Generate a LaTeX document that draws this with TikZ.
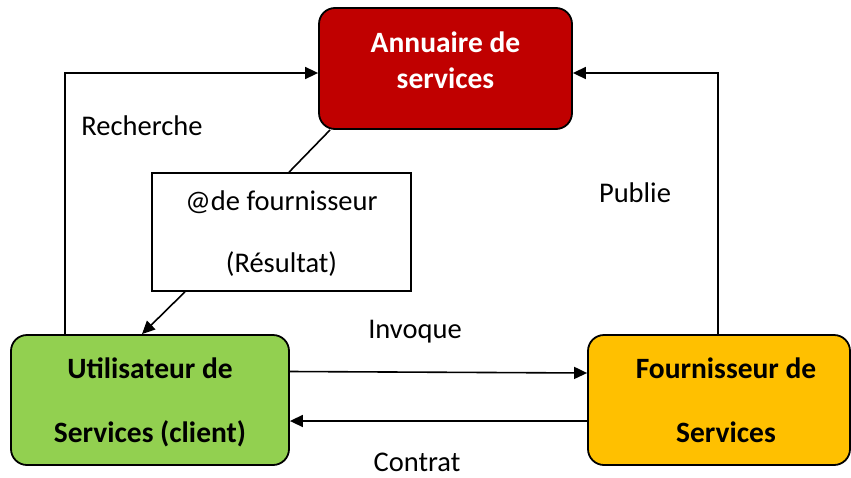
\documentclass[tikz,border=0pt]{standalone}
\usepackage{fontspec}
\setmainfont{Carlito}
\usetikzlibrary{arrows.meta,calc}
\definecolor{annred}{HTML}{C00000}
\definecolor{usergreen}{HTML}{92D050}
\definecolor{fourorange}{HTML}{FFC000}
\tikzset{
  box/.style={draw=black, line width=1.8pt, rounded corners=16pt, inner sep=0pt},
  resbox/.style={draw=black, line width=1.6pt, inner sep=0pt, fill=white},
  txt/.style={font=\fontsize{28.5}{34}\selectfont, inner sep=0pt, anchor=base},
  btxt/.style={font=\fontsize{29.5}{34}\selectfont\bfseries, inner sep=0pt, anchor=base},
  conn/.style={line width=1.6pt, draw=black},
  arr/.style={conn, -{Triangle[length=13pt,width=12pt]}},
}
\begin{document}
\begin{tikzpicture}[x=1pt,y=-1pt]
\path[use as bounding box, fill=white] (0,0) rectangle (851,477);

% boxes
\node[box, fill=annred, minimum width=253pt, minimum height=121pt] (ann) at (445.5,68.5) {};
\node[resbox, minimum width=259pt, minimum height=118pt] (res) at (281.5,232) {};
\node[box, fill=usergreen, minimum width=278pt, minimum height=130pt] (user) at (150,400) {};
\node[box, fill=fourorange, minimum width=262pt, minimum height=130pt] (four) at (719,400) {};

% box texts
\node[btxt, text=white] (annA) at (445.5,52) {Annuaire de};
\node[btxt, text=white] (annB) at (445.5,88) {services};
\node[txt] (resA) at (281.5,210) {@de fournisseur};
\node[txt] (resB) at (281.5,272) {(Résultat)};
\node[btxt] (userA) at (150,378) {Utilisateur de};
\node[btxt] (userB) at (150,442) {Services (client)};
\node[btxt] (fourA) at (726,378) {Fournisseur de};
\node[btxt] (fourB) at (726,442) {Services};

% labels
\node[txt] (lRech) at (142,135) {Recherche};
\node[txt] (lPub) at (635,202) {Publie};
\node[txt] (lInv) at (415,338) {Invoque};
\node[txt] (lCon) at (417,471) {Contrat};

% connectors
\draw[arr] ([xshift=-85pt]user.north) |- ([yshift=-4.5pt]ann.west);
\draw[arr] ([xshift=-1pt]four.north) |- ([yshift=-4.5pt]ann.east);
\draw[conn] ([xshift=12pt]ann.south west) -- ([xshift=7.5pt]res.north);
\draw[arr] ([xshift=-96.5pt]res.south) -- ([xshift=-8pt]user.north);
\draw[arr] ([yshift=28.5pt]user.east) -- ([yshift=27pt]four.west);
\draw[arr] ([yshift=-21pt]four.west) -- ([yshift=-21pt]user.east);
\end{tikzpicture}
\end{document}
